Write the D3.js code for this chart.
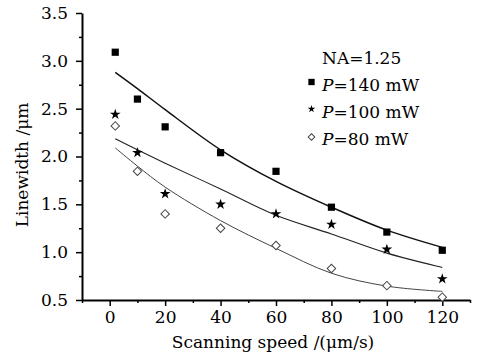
<!DOCTYPE html>
<html><head><meta charset="utf-8">
<script src="https://cdn.jsdelivr.net/npm/d3@7"></script>
<style>
html,body{margin:0;padding:0;background:#fff;}
svg{display:block;font-family:"DejaVu Serif",serif;}
</style></head>
<body><svg id="c" width="477" height="357"></svg>
<script>
const speeds = [2, 10, 20, 40, 60, 80, 100, 120];
const p140 = [3.09, 2.60, 2.31, 2.04, 1.845, 1.47, 1.21, 1.02];
const p100 = [2.44, 2.04, 1.61, 1.50, 1.40, 1.29, 1.03, 0.72];
const p80  = [2.32, 1.845, 1.40, 1.25, 1.07, 0.83, 0.65, 0.53];
const fit140 = [2.88, 2.71, 2.49, 2.07, 1.74, 1.47, 1.23, 1.05];
const fit100 = [2.185, 2.07, 1.93, 1.66, 1.385, 1.19, 0.99, 0.84];
const fit80  = [2.09, 1.90, 1.68, 1.33, 1.04, 0.78, 0.645, 0.59];
const xTicks = [0, 20, 40, 60, 80, 100, 120];
const xMinor = [-10, 10, 30, 50, 70, 90, 110, 130];
const yTicks = [0.5, 1.0, 1.5, 2.0, 2.5, 3.0, 3.5];
const yMinor = [0.75, 1.25, 1.75, 2.25, 2.75, 3.25];
const legendLabels = ["140", "100", "80"];

const svg = d3.select("#c");
const x = d3.scaleLinear().domain([-10, 130]).range([82, 470]);
const y = d3.scaleLinear().domain([0.5, 3.5]).range([300, 13]);

// axes
svg.append("g").attr("transform", "translate(0,300)")
  .call(d3.axisBottom(x).tickValues(xTicks).tickFormat(d3.format("d")).tickSize(6).tickSizeOuter(0).tickPadding(5));
svg.append("g").attr("transform", "translate(0,300)")
  .call(d3.axisBottom(x).tickValues(xMinor).tickFormat("").tickSize(3).tickSizeOuter(0))
  .select(".domain").remove();
svg.append("g").attr("transform", "translate(82,0)")
  .call(d3.axisLeft(y).tickValues(yTicks).tickFormat(d3.format(".1f")).tickSize(6).tickSizeOuter(0).tickPadding(8));
svg.append("g").attr("transform", "translate(82,0)")
  .call(d3.axisLeft(y).tickValues(yMinor).tickFormat("").tickSize(3).tickSizeOuter(0))
  .select(".domain").remove();
svg.selectAll(".domain").attr("stroke", "#000").attr("stroke-width", 2);
svg.selectAll(".tick line").attr("stroke", "#000").attr("stroke-width", 1.5);
svg.selectAll(".tick text").attr("fill", "#000").style("font-size", "17px").style("font-family", "DejaVu Serif");

// axis titles
svg.append("text").attr("x", 273).attr("y", 348).attr("text-anchor", "middle")
  .style("font-size", "17px").attr("fill", "#000").text("Scanning speed /(μm/s)");
svg.append("text").attr("transform", "translate(28,165) rotate(-90)").attr("text-anchor", "middle")
  .style("font-size", "17px").attr("fill", "#000").text("Linewidth /μm");

// fit curves
const line = d3.line().x((d, i) => x(speeds[i])).y(d => y(d)).curve(d3.curveCatmullRom.alpha(0.5));
svg.append("path").attr("d", line(fit140)).attr("fill", "none").attr("stroke", "#111").attr("stroke-width", 1.5);
svg.append("path").attr("d", line(fit100)).attr("fill", "none").attr("stroke", "#222").attr("stroke-width", 1.1);
svg.append("path").attr("d", line(fit80)).attr("fill", "none").attr("stroke", "#444").attr("stroke-width", 1.0);

// markers
const sq = d3.symbol().type(d3.symbolSquare).size(52);
const st = d3.symbol().type(d3.symbolStar).size(36);
const di = d3.symbol().type(d3.symbolSquare).size(36);
svg.append("g").selectAll("path").data(p140).join("path")
  .attr("d", sq).attr("transform", (d, i) => `translate(${x(speeds[i])},${y(d)})`).attr("fill", "#000");
svg.append("g").selectAll("path").data(p100).join("path")
  .attr("d", st).attr("transform", (d, i) => `translate(${x(speeds[i])},${y(d)})`).attr("fill", "#000");
svg.append("g").selectAll("path").data(p80).join("path")
  .attr("d", di).attr("transform", (d, i) => `translate(${x(speeds[i])},${y(d)}) rotate(45)`)
  .attr("fill", "#fff").attr("stroke", "#444").attr("stroke-width", 1);

// legend
const lg = svg.append("g").style("font-size", "17px").attr("fill", "#000");
lg.append("text").attr("x", 322).attr("y", 64).text("NA=1.25");
const legSyms = [d3.symbol().type(d3.symbolSquare).size(40), d3.symbol().type(d3.symbolStar).size(18), d3.symbol().type(d3.symbolSquare).size(22)];
legendLabels.forEach((lab, i) => {
  const yy = 91 + i * 27;
  const p = lg.append("path").attr("d", legSyms[i]);
  if (i === 2) p.attr("transform", `translate(311.5,${yy - 8}) rotate(45)`).attr("fill", "#fff").attr("stroke", "#444");
  else p.attr("transform", `translate(311.5,${yy - 9})`).attr("fill", "#000");
  const t = lg.append("text").attr("x", 322).attr("y", yy);
  t.append("tspan").style("font-style", "italic").text("P");
  t.append("tspan").text("=" + lab + " mW");
});
</script></body></html>
